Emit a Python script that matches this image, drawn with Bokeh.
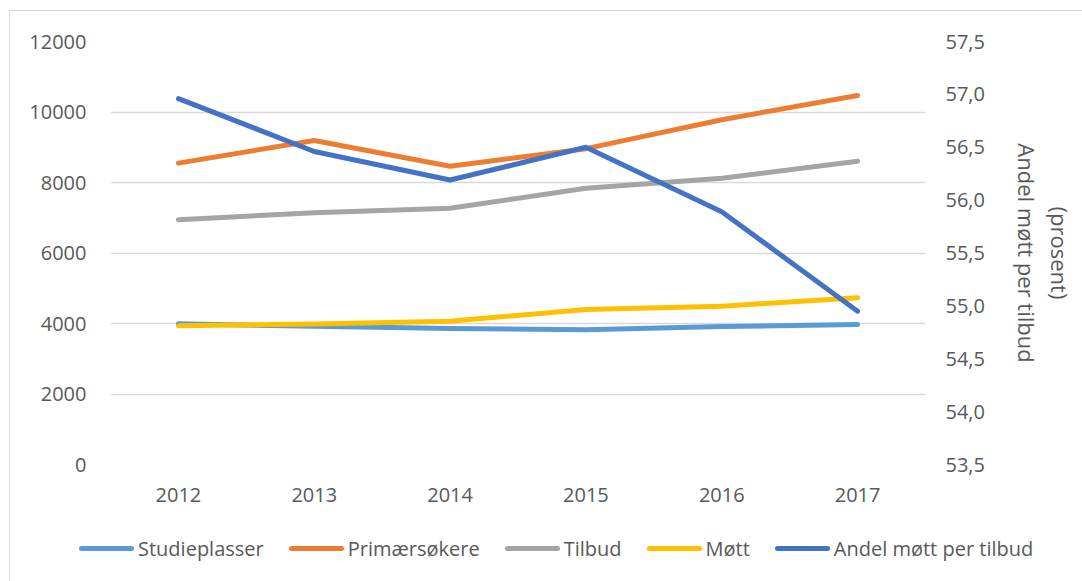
from bokeh.plotting import figure
from bokeh.layouts import column
from bokeh.models import (Range1d, FactorRange, LinearAxis, FixedTicker, CustomJSTickFormatter, Div)
from bokeh.embed import file_html
from bokeh.resources import INLINE

years = ["2012", "2013", "2014", "2015", "2016", "2017"]
studieplasser = [3990, 3925, 3855, 3825, 3915, 3970]
primaersokere = [8550, 9190, 8460, 8960, 9780, 10470]
tilbud = [6945, 7140, 7270, 7835, 8120, 8605]
mott = [3935, 3985, 4065, 4395, 4490, 4730]
andel = [56.96, 56.46, 56.19, 56.50, 55.89, 54.95]

left_ticks = [0, 2000, 4000, 6000, 8000, 10000, 12000]
right_ticks = [53.5, 54.0, 54.5, 55.0, 55.5, 56.0, 56.5, 57.0, 57.5]
right_label_1 = "Andel møtt per tilbud"
right_label_2 = "(prosent)"

FONT = "Open Sans"
TXT = "#595959"
BORDER = "1px solid #d9d9d9"

p = figure(width=1072, height=502, x_range=FactorRange(factors=years, range_padding=0),
           y_range=Range1d(0, 12000), output_backend="svg", toolbar_location=None,
           min_border_left=100, min_border_right=157, min_border_top=30, min_border_bottom=49)
p.outline_line_color = None
p.background_fill_color = "white"
p.border_fill_color = "white"

p.extra_y_ranges = {"right": Range1d(53.5, 57.5)}

p.xgrid.visible = False
p.ygrid.grid_line_color = "#d9d9d9"
p.ygrid.grid_line_width = 1.5

p.yaxis.ticker = FixedTicker(ticks=left_ticks)
for ax in [p.xaxis[0], p.yaxis[0]]:
    ax.axis_line_color = None
    ax.major_tick_line_color = None
    ax.minor_tick_line_color = None
    ax.major_label_text_font = FONT
    ax.major_label_text_font_size = "20px"
    ax.major_label_text_color = TXT
p.yaxis.major_label_standoff = 18
p.xaxis.major_label_standoff = 17

def right_axis(label, ticks):
    a = LinearAxis(y_range_name="right", ticker=FixedTicker(ticks=ticks),
                   formatter=CustomJSTickFormatter(code="return tick.toFixed(1).replace('.', ',');"))
    a.axis_line_color = None
    a.major_tick_line_color = None
    a.minor_tick_line_color = None
    a.major_label_text_font = FONT
    a.major_label_text_font_size = "20px"
    a.major_label_text_color = TXT
    a.major_label_standoff = 14
    a.axis_label = label
    a.axis_label_text_font = FONT
    a.axis_label_text_font_size = "22px"
    a.axis_label_text_font_style = "normal"
    a.axis_label_text_color = TXT
    a.axis_label_orientation = "parallel"
    return a

rax1 = right_axis(right_label_1, right_ticks)
rax1.axis_label_standoff = 24
rax2 = right_axis(right_label_2, [])
rax2.axis_label_standoff = 0
rax2.major_label_standoff = 0
p.add_layout(rax1, "right")
p.add_layout(rax2, "right")

series = [
    ("Studieplasser", studieplasser, "#5B9BD5", None),
    ("Primærsøkere", primaersokere, "#ED7D31", None),
    ("Tilbud", tilbud, "#A5A5A5", None),
    ("Møtt", mott, "#FFC000", None),
    ("Andel møtt per tilbud", andel, "#4472C4", "right"),
]
legend_parts = []
for name, vals, col, rng in series:
    kw = {"y_range_name": rng} if rng else {}
    p.line(years, vals, line_color=col, line_width=5, line_cap="round", line_join="round", **kw)
    legend_parts.append(
        f'<span style="display:inline-flex;align-items:center;margin-right:25px">'
        f'<span style="display:inline-block;width:55px;height:5px;border-radius:3px;'
        f'background:{col};margin-right:4px"></span>{name}</span>')

legend_html = ('<div style="display:flex;align-items:center;height:27px;line-height:27px;'
               'margin-top:17px;margin-left:64px;white-space:nowrap;'
               f'font-family:\'{FONT}\';font-size:20px;color:{TXT}">' + "".join(legend_parts) + '</div>')
legend_div = Div(text=legend_html, width=1072, height=68)

layout = column(p, legend_div, spacing=0,
                styles={"margin-left": "9px", "margin-top": "10px",
                        "border-left": BORDER, "border-top": BORDER})
open("out.html", "w").write(file_html(layout, INLINE))
